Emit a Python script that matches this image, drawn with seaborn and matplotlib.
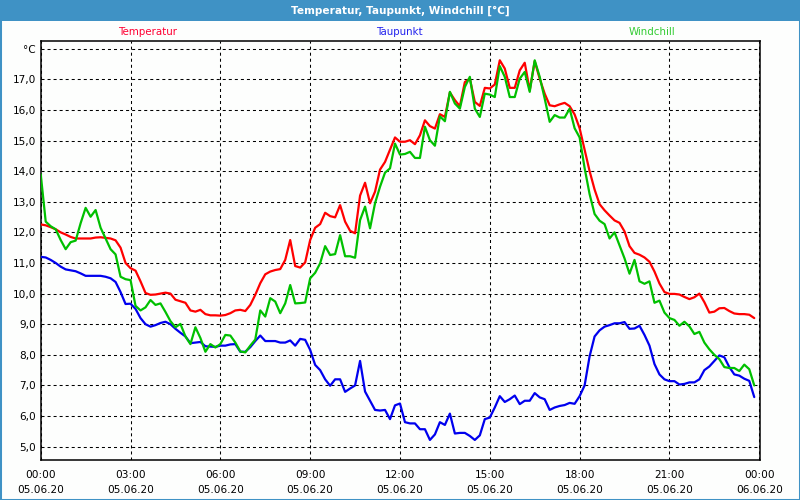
import numpy as np
import pandas as pd
import matplotlib
matplotlib.use("Agg")
import matplotlib.pyplot as plt
import matplotlib.dates as mdates
from matplotlib.patches import Rectangle
from matplotlib.ticker import FuncFormatter, FixedLocator
import seaborn as sns

# 10-minute readings, 05.06.20 00:00 .. 23:50
times = pd.date_range("2020-06-05 00:00", periods=144, freq="10min")

temperatur = [
    12.26, 12.23, 12.17, 12.10, 12.00, 11.93, 11.85, 11.80, 11.80, 11.80, 11.80, 11.83,
    11.84, 11.82, 11.80, 11.74, 11.50, 11.00, 10.83, 10.75, 10.40, 10.02, 9.96, 9.97,
    10.00, 10.03, 10.00, 9.80, 9.75, 9.70, 9.45, 9.41, 9.47, 9.33, 9.29, 9.29,
    9.28, 9.30, 9.36, 9.45, 9.47, 9.43, 9.63, 9.96, 10.34, 10.63, 10.72, 10.77,
    10.80, 11.10, 11.75, 10.90, 10.85, 11.02, 11.75, 12.15, 12.27, 12.64, 12.53, 12.49,
    12.89, 12.35, 12.05, 11.97, 13.20, 13.62, 12.95, 13.33, 14.05, 14.30, 14.70, 15.10,
    14.96, 14.96, 15.01, 14.88, 15.17, 15.66, 15.47, 15.39, 15.86, 15.77, 16.57, 16.32,
    16.12, 16.91, 17.02, 16.26, 16.13, 16.72, 16.70, 16.83, 17.62, 17.35, 16.72, 16.72,
    17.29, 17.54, 16.64, 17.59, 17.02, 16.53, 16.15, 16.12, 16.18, 16.23, 16.12, 15.85,
    15.40, 14.70, 14.00, 13.40, 12.92, 12.72, 12.55, 12.39, 12.31, 12.03, 11.55, 11.33,
    11.27, 11.18, 11.04, 10.72, 10.33, 10.05, 9.99, 9.99, 9.97, 9.89, 9.82, 9.88,
    10.00, 9.72, 9.38, 9.41, 9.52, 9.53, 9.43, 9.35, 9.33, 9.33, 9.31, 9.20,
]

taupunkt = [
    11.20, 11.18, 11.10, 11.00, 10.88, 10.79, 10.76, 10.73, 10.66, 10.58, 10.58, 10.58,
    10.58, 10.55, 10.50, 10.38, 10.05, 9.66, 9.67, 9.50, 9.20, 9.00, 8.92, 8.97,
    9.04, 9.08, 9.00, 8.85, 8.72, 8.60, 8.38, 8.40, 8.42, 8.28, 8.27, 8.26,
    8.30, 8.30, 8.34, 8.35, 8.10, 8.10, 8.25, 8.45, 8.63, 8.45, 8.45, 8.45,
    8.40, 8.40, 8.47, 8.30, 8.52, 8.49, 8.16, 7.67, 7.50, 7.20, 6.99, 7.20,
    7.20, 6.79, 6.90, 7.00, 7.80, 6.80, 6.50, 6.20, 6.18, 6.20, 5.90, 6.35,
    6.41, 5.80, 5.76, 5.76, 5.57, 5.57, 5.22, 5.40, 5.80, 5.71, 6.08, 5.43,
    5.45, 5.45, 5.35, 5.22, 5.37, 5.90, 5.95, 6.28, 6.65, 6.46, 6.55, 6.67,
    6.39, 6.50, 6.50, 6.75, 6.61, 6.55, 6.20, 6.28, 6.33, 6.36, 6.43, 6.40,
    6.65, 7.00, 7.95, 8.60, 8.80, 8.92, 8.97, 9.03, 9.03, 9.07, 8.85, 8.86,
    8.95, 8.65, 8.30, 7.70, 7.36, 7.20, 7.14, 7.14, 7.03, 7.05, 7.10, 7.10,
    7.20, 7.50, 7.62, 7.80, 7.98, 7.92, 7.60, 7.36, 7.32, 7.22, 7.15, 6.62,
]

windchill = [
    13.90, 12.35, 12.20, 12.10, 11.75, 11.45, 11.68, 11.73, 12.30, 12.80, 12.51, 12.73,
    12.15, 11.80, 11.45, 11.28, 10.55, 10.47, 10.44, 9.60, 9.45, 9.55, 9.79, 9.63,
    9.68, 9.40, 9.10, 8.90, 9.01, 8.60, 8.35, 8.90, 8.55, 8.10, 8.35, 8.24,
    8.35, 8.65, 8.63, 8.40, 8.11, 8.08, 8.30, 8.50, 9.45, 9.25, 9.85, 9.74,
    9.36, 9.68, 10.28, 9.68, 9.69, 9.71, 10.50, 10.68, 10.99, 11.55, 11.26, 11.29,
    11.91, 11.22, 11.22, 11.17, 12.40, 12.84, 12.13, 12.95, 13.49, 13.95, 14.09, 14.90,
    14.54, 14.56, 14.63, 14.43, 14.43, 15.45, 15.01, 14.83, 15.79, 15.63, 16.59, 16.21,
    16.04, 16.75, 17.08, 16.04, 15.77, 16.53, 16.50, 16.42, 17.43, 17.08, 16.42, 16.42,
    17.02, 17.24, 16.59, 17.62, 17.08, 16.37, 15.61, 15.83, 15.75, 15.75, 16.04, 15.40,
    15.10, 14.10, 13.25, 12.60, 12.38, 12.27, 11.80, 12.00, 11.58, 11.15, 10.65, 11.10,
    10.40, 10.32, 10.40, 9.70, 9.77, 9.38, 9.20, 9.14, 8.95, 9.08, 8.93, 8.68,
    8.75, 8.40, 8.18, 8.00, 7.86, 7.60, 7.57, 7.57, 7.47, 7.68, 7.53, 7.00,
]

series_names = ["Temperatur", "Taupunkt", "Windchill"]
series_colors = ["#ff0000", "#0000ee", "#00c000"]
label_colors = ["#ff0033", "#2222ee", "#33cc33"]

y_ticks = [5, 6, 7, 8, 9, 10, 11, 12, 13, 14, 15, 16, 17, 18]

df = pd.DataFrame({"Zeit": times, "Temperatur": temperatur,
                   "Taupunkt": taupunkt, "Windchill": windchill})
long_df = df.melt(id_vars="Zeit", var_name="Reihe", value_name="Wert")

sns.set_style("white")
plt.rcParams["font.family"] = ["DejaVu Sans"]

fig = plt.figure(figsize=(8, 5), dpi=100, facecolor="#fdfefd")
ax = fig.add_axes([0.0509, 0.0794, 0.8991, 0.8392])
ax.set_facecolor("#fdfefd")

sns.lineplot(data=long_df, x="Zeit", y="Wert", hue="Reihe", hue_order=series_names,
             palette=series_colors, linewidth=1.6, legend=False, ax=ax, zorder=3)

ax.set_xlim(pd.Timestamp("2020-06-05 00:00"), pd.Timestamp("2020-06-06 00:01:30"))
ax.set_ylim(4.555, 18.26)
ax.set_xlabel("")
ax.set_ylabel("")

ax.xaxis.set_major_locator(mdates.HourLocator(byhour=range(0, 24, 3)))
ax.xaxis.set_minor_locator(mdates.HourLocator())
ax.xaxis.set_major_formatter(mdates.DateFormatter("%H:%M\n%d.%m.%y"))
ax.yaxis.set_major_locator(FixedLocator(y_ticks))
ax.yaxis.set_major_formatter(FuncFormatter(
    lambda v, p: "°C" if v >= 18 else f"{v:.1f}".replace(".", ",")))

ax.grid(True, which="major", color="black", linestyle=(0, (2.9, 2.9)), linewidth=0.75)
ax.tick_params(axis="x", which="both", direction="in", length=2.5, width=0.8,
               top=False, labelsize=7.6, pad=7, colors="black")
ax.tick_params(axis="y", which="both", length=0, labelsize=7.6, pad=3.5, colors="black")
for lbl in ax.get_xticklabels():
    lbl.set_linespacing(1.6)
for sp in ax.spines.values():
    sp.set_visible(True)
    sp.set_color("black")
    sp.set_linewidth(1.1)

# series names above the plot
for name, col, xc in zip(series_names, label_colors, [0.184, 0.499, 0.815]):
    fig.text(xc, 0.936, name, color=col, fontsize=7.4, ha="center", va="center")

# window title bar and frame
fig.patches.append(Rectangle((0, 0.958), 1, 0.042, transform=fig.transFigure,
                             facecolor="#3f92c5", edgecolor="none", zorder=0))
fig.patches.append(Rectangle((0, 0), 1, 1, transform=fig.transFigure,
                             facecolor="none", edgecolor="#3f92c5", linewidth=2.2, zorder=5))
fig.text(0.5, 0.979, "Temperatur, Taupunkt, Windchill [°C]", color="white",
         fontsize=7.6, fontweight="bold", ha="center", va="center")

fig.savefig("out.png", dpi=100, facecolor=fig.get_facecolor())
